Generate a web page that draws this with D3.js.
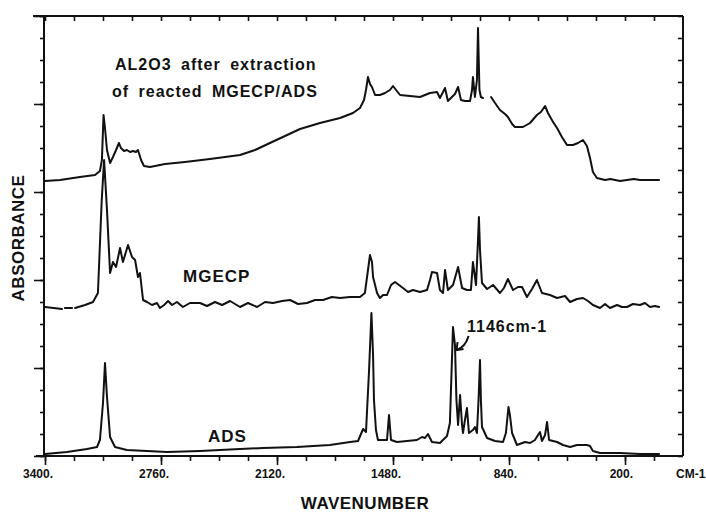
<!DOCTYPE html>
<html><head><meta charset="utf-8">
<script src="https://cdn.jsdelivr.net/npm/d3@7"></script>
<style>body{margin:0;background:#fff}svg{display:block}</style>
</head><body>
<svg id="c" width="706" height="512"></svg>
<script>
// ---- data (wavenumber cm-1, absorbance, stacked offsets as in the figure) ----
const xTickValues = [3400, 2760, 2120, 1480, 840, 200];
const xTickLabels = ["3400.", "2760.", "2120.", "1480.", "840.", "200."];
const xUnitLabel = "CM-1";
const xTitle = "WAVENUMBER";
const yTitle = "ABSORBANCE";
const labelAl2o3 = ["AL2O3 after extraction", "of reacted MGECP/ADS"];
const labelMgecp = "MGECP";
const labelAds = "ADS";
const annotation = "1146cm-1";

const al2o3 = [
[3400,2.75],[3317,2.76],[3207,2.79],[3124,2.81],[3097,2.85],[3086,2.96],[3077,3.41],[3069,3.28],[3058,3.06],
[3041,2.93],[3025,2.99],[3008,3.06],[2992,3.13],[2981,3.08],[2964,3.05],[2948,3.06],[2931,3.04],[2914,3.05],
[2898,3.04],[2887,3.06],[2870,2.96],[2854,2.90],[2821,2.89],[2738,2.92],[2628,2.94],[2490,2.97],[2324,3.01],
[2241,3.06],[2159,3.13],[2076,3.20],[1993,3.27],[1883,3.33],[1772,3.38],[1701,3.43],[1662,3.48],[1640,3.56],
[1629,3.66],[1618,3.79],[1607,3.72],[1596,3.69],[1579,3.61],[1552,3.61],[1524,3.63],[1497,3.66],[1480,3.70],
[1463,3.66],[1441,3.61],[1386,3.60],[1331,3.59],[1276,3.63],[1237,3.64],[1221,3.58],[1204,3.64],[1193,3.68],
[1177,3.55],[1155,3.59],[1138,3.62],[1121,3.69],[1105,3.56],[1083,3.55],[1055,3.55],[1044,3.66],[1039,3.79],
[1028,3.59],[1017,3.76],[1011,4.28],[1003,3.66],[995,3.59],[984,3.58],
null,
[939,3.59],[917,3.53],[890,3.46],[862,3.42],[846,3.39],[823,3.32],[807,3.29],[763,3.29],[724,3.33],[686,3.41],
[664,3.44],[641,3.50],[625,3.43],[597,3.34],[575,3.28],[548,3.19],[520,3.11],[487,3.11],[459,3.13],[432,3.16],
[410,3.10],[393,2.98],[377,2.84],[355,2.78],[310,2.76],[280,2.77],[228,2.75],[150,2.77],[117,2.76],[60,2.76],[12,2.76]
];

const mgecp = [
[3400,1.49],[3306,1.47],null,[3290,1.48],[3251,1.48],null,[3234,1.48],[3179,1.51],[3135,1.54],[3108,1.63],
[3087,2.56],[3074,2.96],[3058,2.46],[3041,1.83],[3025,1.94],[3008,1.89],[2986,2.08],[2970,1.94],[2942,2.11],
[2920,1.99],[2903,1.96],[2887,1.79],[2876,1.83],[2859,1.56],[2837,1.54],[2810,1.51],[2782,1.53],[2766,1.48],
[2743,1.51],[2721,1.55],[2699,1.51],[2672,1.54],[2639,1.49],[2600,1.53],[2545,1.53],[2506,1.50],[2462,1.54],
[2423,1.51],[2379,1.55],[2324,1.49],[2280,1.53],[2230,1.49],[2186,1.54],[2142,1.53],[2092,1.55],[2048,1.56],
[2004,1.52],[1955,1.53],[1910,1.56],[1866,1.56],[1817,1.59],[1772,1.58],[1717,1.59],[1662,1.59],[1635,1.63],
[1618,1.86],[1607,2.01],[1596,1.94],[1590,1.79],[1568,1.63],[1552,1.58],[1535,1.61],[1513,1.61],[1491,1.71],
[1469,1.74],[1447,1.71],[1425,1.68],[1397,1.64],[1370,1.66],[1331,1.64],[1292,1.66],[1276,1.76],[1265,1.84],
[1237,1.83],[1221,1.66],[1204,1.63],[1193,1.86],[1177,1.66],[1149,1.71],[1121,1.89],[1099,1.68],[1072,1.66],
[1050,1.66],[1039,1.94],[1022,1.71],[1011,2.16],[1006,2.39],[1000,2.06],[989,1.73],[961,1.67],[928,1.71],
[890,1.63],[868,1.68],[846,1.77],[818,1.66],[790,1.69],[768,1.69],[741,1.59],[713,1.67],[686,1.76],[658,1.63],
[614,1.61],[575,1.58],[531,1.60],[503,1.54],[465,1.57],[432,1.58],[404,1.55],[377,1.51],[338,1.48],[310,1.52],
[283,1.48],[244,1.51],[217,1.49],[189,1.49],[156,1.52],[117,1.51],[90,1.53],[62,1.49],[35,1.50],[12,1.49]
];

const ads = [
[3400,0.02],[3279,0.04],[3168,0.07],[3113,0.09],[3097,0.16],[3080,0.53],[3069,0.93],[3058,0.59],[3041,0.19],
[3014,0.09],[2948,0.06],[2727,0.04],[2545,0.05],[2324,0.07],[2197,0.08],[2010,0.09],[1828,0.11],[1717,0.14],
[1673,0.15],[1645,0.27],[1629,0.24],[1612,0.86],[1599,1.43],[1590,1.01],[1585,0.56],[1574,0.26],[1563,0.16],
[1513,0.16],[1502,0.41],[1491,0.16],[1458,0.14],[1348,0.16],[1320,0.19],[1303,0.18],[1287,0.22],[1265,0.14],
[1221,0.13],[1182,0.20],[1166,0.33],[1149,1.29],[1138,1.11],[1130,0.56],[1121,0.31],[1110,0.61],[1099,0.31],
[1094,0.23],[1083,0.36],[1072,0.48],[1061,0.23],[1039,0.26],[1028,0.29],[1017,0.23],[1008,0.56],[1000,0.96],
[995,0.56],[989,0.29],[961,0.18],[917,0.15],[873,0.14],[857,0.23],[843,0.49],[835,0.41],[823,0.23],[796,0.11],
[752,0.14],[724,0.13],[697,0.16],[680,0.21],[669,0.24],[658,0.15],[641,0.21],[630,0.34],[619,0.16],[597,0.15],
[575,0.14],[542,0.11],[503,0.09],[465,0.11],[410,0.11],[393,0.10],[377,0.05],[338,0.03],[228,0.03],[117,0.02],[12,0.02]
];

// ---- drawing ----
const svg = d3.select("#c");
const x = d3.scaleLinear().domain([3400, -120]).range([45, 683]);
const y = d3.scaleLinear().domain([0, 4.4]).range([456, 16]);
const ink = "#111";

const minorX = d3.range(3400, 0, -160);
const yTicks = d3.range(0, 21).map(i => +(i * 0.22).toFixed(2));
const yMajor = yTicks.filter((d, i) => i % 4 === 0);

const axisStyle = g => { g.select(".domain").remove(); g.selectAll("line").attr("stroke", ink).attr("stroke-width", 1.6); g.selectAll("text").remove(); };

// bottom axis
svg.append("g").attr("transform", "translate(0,456)").call(d3.axisBottom(x).tickValues(minorX).tickSize(5)).call(axisStyle);
svg.append("g").attr("transform", "translate(0,456)").call(d3.axisBottom(x).tickValues(xTickValues).tickSize(9)).call(axisStyle);
// top axis (ticks inward)
svg.append("g").attr("transform", "translate(0,16)").call(d3.axisBottom(x).tickValues(minorX).tickSize(5)).call(axisStyle);
// left axis (ticks outward)
svg.append("g").attr("transform", "translate(44,0)").call(d3.axisLeft(y).tickValues(yTicks).tickSize(4)).call(axisStyle);
svg.append("g").attr("transform", "translate(44,0)").call(d3.axisLeft(y).tickValues(yMajor).tickSize(10)).call(axisStyle);
// right axis (ticks inward)
svg.append("g").attr("transform", "translate(683,0)").call(d3.axisLeft(y).tickValues(yTicks).tickSize(5)).call(axisStyle);

// frame lines
const frame = svg.append("g").attr("stroke", ink).attr("stroke-width", 2).attr("fill", "none");
frame.append("line").attr("x1", 36).attr("x2", x.range()[1]).attr("y1", y(0)).attr("y2", y(0));
frame.append("line").attr("x1", 33).attr("x2", x.range()[1]).attr("y1", y(4.4)).attr("y2", y(4.4));
frame.append("line").attr("x1", 44).attr("x2", 44).attr("y1", y(4.4)).attr("y2", y(0));
frame.append("line").attr("x1", x.range()[1]).attr("x2", x.range()[1]).attr("y1", y(4.4)).attr("y2", y(0));

// tick labels
const tickFont = "'Liberation Sans', Arial, sans-serif";
svg.append("g").selectAll("text").data(xTickValues).join("text")
  .attr("x", d => x(d) + 8).attr("y", 478).attr("text-anchor", "end")
  .attr("font-family", tickFont).attr("font-size", 12).attr("font-weight", "bold").attr("fill", ink)
  .text((d, i) => xTickLabels[i]);
svg.append("text").attr("x", 676).attr("y", 478).attr("font-family", tickFont).attr("font-size", 12)
  .attr("font-weight", "bold").attr("fill", ink).text(xUnitLabel);

// spectra
const line = d3.line().defined(d => d !== null).x(d => x(d[0])).y(d => y(d[1]));
[al2o3, mgecp, ads].forEach(s => {
  svg.append("path").datum(s).attr("d", line).attr("fill", "none").attr("stroke", ink)
    .attr("stroke-width", 2).attr("stroke-linejoin", "round").attr("stroke-linecap", "round");
});

// text labels
const lf = "'Liberation Sans', Arial, sans-serif";
const lab = (tx, px, py, opts = {}) => svg.append("text").attr("x", px).attr("y", py)
  .attr("font-family", lf).attr("font-size", opts.size || 16).attr("font-weight", "bold")
  .attr("letter-spacing", opts.ls || 1).attr("word-spacing", opts.ws || 4).attr("fill", ink).text(tx);
lab(labelAl2o3[0], 115, 70);
lab(labelAl2o3[1], 112, 97);
lab(labelMgecp, 183, 282, {size: 17, ls: 1});
lab(labelAds, 208, 442, {size: 17, ls: 1});
lab(annotation, 467, 332, {size: 16, ls: 1});

// arrow to 1146 peak
const tipX = x(1146) + 3, tipY = y(1.06);
svg.append("path").attr("d", `M${tipX + 12},${tipY - 14} Q${tipX + 9},${tipY - 3} ${tipX},${tipY}`)
  .attr("fill", "none").attr("stroke", ink).attr("stroke-width", 2);
svg.append("path").attr("d", `M${tipX + 1},${tipY - 8} L${tipX},${tipY} L${tipX + 7},${tipY - 1}`)
  .attr("fill", "none").attr("stroke", ink).attr("stroke-width", 2);

// axis titles
svg.append("text").attr("transform", "translate(24,238) rotate(-90)").attr("text-anchor", "middle")
  .attr("font-family", lf).attr("font-size", 17).attr("font-weight", "bold").attr("letter-spacing", 0.5)
  .attr("fill", ink).text(yTitle);
svg.append("text").attr("x", 365).attr("y", 509).attr("text-anchor", "middle")
  .attr("font-family", lf).attr("font-size", 17).attr("font-weight", "bold").attr("letter-spacing", 0.5)
  .attr("fill", ink).text(xTitle);
</script>
</body></html>
